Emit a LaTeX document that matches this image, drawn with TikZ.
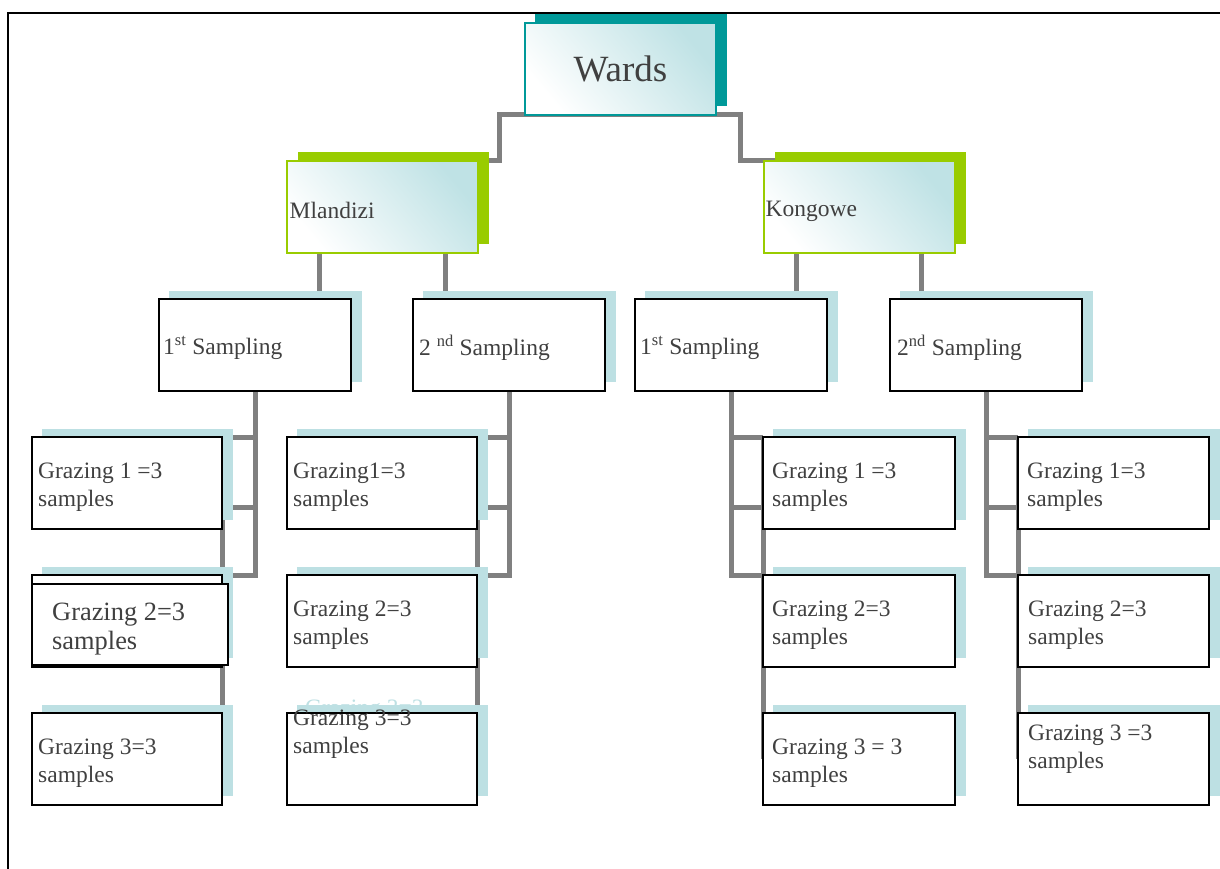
\documentclass[tikz,border=0pt]{standalone}
\usepackage{fontspec}
\setmainfont{Liberation Serif}
\usetikzlibrary{calc}
\definecolor{wteal}{HTML}{009999}
\definecolor{lgreen}{HTML}{99CC00}
\definecolor{lblue}{HTML}{BDE0E3}
\definecolor{cgray}{HTML}{808080}
\definecolor{tgray}{HTML}{404040}
\definecolor{cyanfill}{HTML}{BFE2E5}
\pgfdeclarelayer{bg}
\pgfdeclarelayer{lines}
\pgfdeclarelayer{shadows}
\pgfsetlayers{bg,lines,shadows,main}
\tikzset{
  shadedbox/.style={rectangle, inner sep=0pt, outer sep=0pt, line width=2pt,
    top color=cyanfill, bottom color=white, shading angle=-50,
    minimum width=191pt, minimum height=92pt},
  topbox/.style={shadedbox, draw=wteal},
  midbox/.style={shadedbox, draw=lgreen},
  sbox/.style={rectangle, draw=black, fill=white, line width=2pt, inner sep=0pt, outer sep=0pt,
    minimum width=192pt, minimum height=92pt},
  gbox/.style={sbox, minimum width=190pt},
  conn/.style={draw=cgray, line width=5pt},
  txt/.style={anchor=west, inner sep=0pt, text=tgray, align=left,
    font=\fontsize{23.5}{28}\selectfont},
}
\begin{document}
\begin{tikzpicture}[x=1pt,y=-1pt]
\useasboundingbox (0,0) rectangle (1220,869);
\begin{pgfonlayer}{bg}
\fill[white] (0,0) rectangle (1220,869);
\end{pgfonlayer}
% frame
\draw[black, line width=2pt] (1220,13) -- (8,13) -- (8,869);

% top level
\node[topbox, text=tgray, font=\fontsize{37}{40}\selectfont] (w) at (620.5,69) {Wards};
\node[midbox] (ml) at (382,207) {};
\node[midbox] (kw) at (859,207) {};
\node[txt] at ($(ml.west)+(3,3)$) {Mlandizi};
\node[txt] at ($(kw.west)+(2,4)$) {Kongowe};

% sampling boxes
\node[sbox] (m1) at (255,345) {};
\node[sbox] (m2) at (509,345) {};
\node[sbox] (k1) at (731,345) {};
\node[sbox] (k2) at (986,345) {};
\node[txt] at ($(m1.west)+(4,3)$) {1\textsuperscript{st} Sampling};
\node[txt] at ($(m2.west)+(6,3)$) {2 \textsuperscript{nd} Sampling};
\node[txt] at ($(k1.west)+(5,3)$) {1\textsuperscript{st} Sampling};
\node[txt] at ($(k2.west)+(7,3)$) {2\textsuperscript{nd} Sampling};

% grazing boxes
\node[gbox] (lg1) at (127,483) {};
\node[gbox] (lg2) at (127,621) {};
\node[gbox, minimum width=196pt, minimum height=81pt] (lg2f) at (130,624.5) {};
\node[gbox] (lg3) at (127,759) {};
\node[gbox] (mg1) at (382,483) {};
\node[gbox] (mg2) at (382,621) {};
\node[gbox] (mg3) at (382,759) {};
\node[gbox, minimum width=192pt] (kg1) at (859,483) {};
\node[gbox, minimum width=192pt] (kg2) at (859,621) {};
\node[gbox, minimum width=192pt] (kg3) at (859,759) {};
\node[gbox, minimum width=191pt] (qg1) at (1113.5,483) {};
\node[gbox, minimum width=191pt] (qg2) at (1113.5,621) {};
\node[gbox, minimum width=191pt] (qg3) at (1113.5,759) {};

% grazing texts
\node[txt] at ($(lg1.west)+(6,4)$) {Grazing 1 =3\\samples};
\node[txt, font=\fontsize{26.4}{29}\selectfont] at (52,629) {Grazing 2=3\\samples};
\node[txt] at ($(lg3.west)+(6,4)$) {Grazing 3=3\\samples};
\node[txt] at ($(mg1.west)+(6,4)$) {Grazing1=3\\samples};
\node[txt] at ($(mg2.west)+(6,4)$) {Grazing 2=3\\samples};
\node[txt] at ($(mg3.west)+(6,-25)$) {Grazing 3=3\\samples};
\node[txt] at ($(kg1.west)+(9,4)$) {Grazing 1 =3\\samples};
\node[txt] at ($(kg2.west)+(9,4)$) {Grazing 2=3\\samples};
\node[txt] at ($(kg3.west)+(9,4)$) {Grazing 3 = 3\\samples};
\node[txt] at ($(qg1.west)+(9,4)$) {Grazing 1=3\\samples};
\node[txt] at ($(qg2.west)+(10,4)$) {Grazing 2=3\\samples};
\node[txt] at ($(qg3.west)+(10,-10)$) {Grazing 3 =3\\samples};

% shadows
\begin{pgfonlayer}{shadows}
  \fill[wteal] ([shift={(10,-9)}]w.south west) rectangle ([shift={(11,-9)}]w.north east);
  \foreach \n in {ml,kw}
    \fill[lgreen] ([shift={(11,-9)}]\n.south west) rectangle ([shift={(11,-9)}]\n.north east);
  \foreach \n in {m1,m2,k1,k2,lg1,lg2,lg3,mg1,mg2,mg3,kg1,kg2,kg3,qg1,qg2,qg3}
    \fill[lblue] ([shift={(10,-9)}]\n.south west) rectangle ([shift={(11,-8)}]\n.north east);
\end{pgfonlayer}

% connectors
\begin{pgfonlayer}{lines}
  % ghost text, partly hidden by the shadow
  \node[txt, text=lblue] (ghost) at (305,710) {Grazing 3=3};
  \draw[conn] ([xshift=11pt]ml.north east) -- ([xshift=22pt]ml.north east) |- (w.south)
              -| ([xshift=-23pt]kw.north west) -- ([xshift=12pt]kw.north west);
  \draw[conn] ([xshift=33pt]ml.south west) -- ([xshift=33pt]ml.south west |- m1.north);
  \draw[conn] ([xshift=-32pt]ml.south east) -- ([xshift=-32pt]ml.south east |- m2.north);
  \draw[conn] ([xshift=33pt]kw.south west) -- ([xshift=33pt]kw.south west |- k1.north);
  \draw[conn] ([xshift=-33pt]kw.south east) -- ([xshift=-33pt]kw.south east |- k2.north);
  % Mlandizi 1st
  \draw[conn] (lg1.north east) -| (m1.south);
  \draw[conn] (m1.south) |- (lg2.north east);
  \draw[conn] ($(lg1.north east)!0.77!(lg1.south east)$) -| (m1.south);
  \draw[conn] (lg1.north east) -- (lg3.east);
  % Mlandizi 2nd
  \draw[conn] (mg1.north east) -| (m2.south);
  \draw[conn] (m2.south) |- (mg2.north east);
  \draw[conn] ($(mg1.north east)!0.77!(mg1.south east)$) -| (m2.south);
  \draw[conn] (mg1.north east) -- (mg3.east);
  % Kongowe 1st
  \draw[conn] (kg1.north west) -| (k1.south);
  \draw[conn] (k1.south) |- (kg2.north west);
  \draw[conn] ($(kg1.north west)!0.77!(kg1.south west)$) -| (k1.south);
  \draw[conn] (kg1.north west) -- (kg3.west);
  % Kongowe 2nd
  \draw[conn] (qg1.north west) -| (k2.south);
  \draw[conn] (k2.south) |- (qg2.north west);
  \draw[conn] ($(qg1.north west)!0.77!(qg1.south west)$) -| (k2.south);
  \draw[conn] (qg1.north west) -- (qg3.west);
\end{pgfonlayer}
\end{tikzpicture}
\end{document}
